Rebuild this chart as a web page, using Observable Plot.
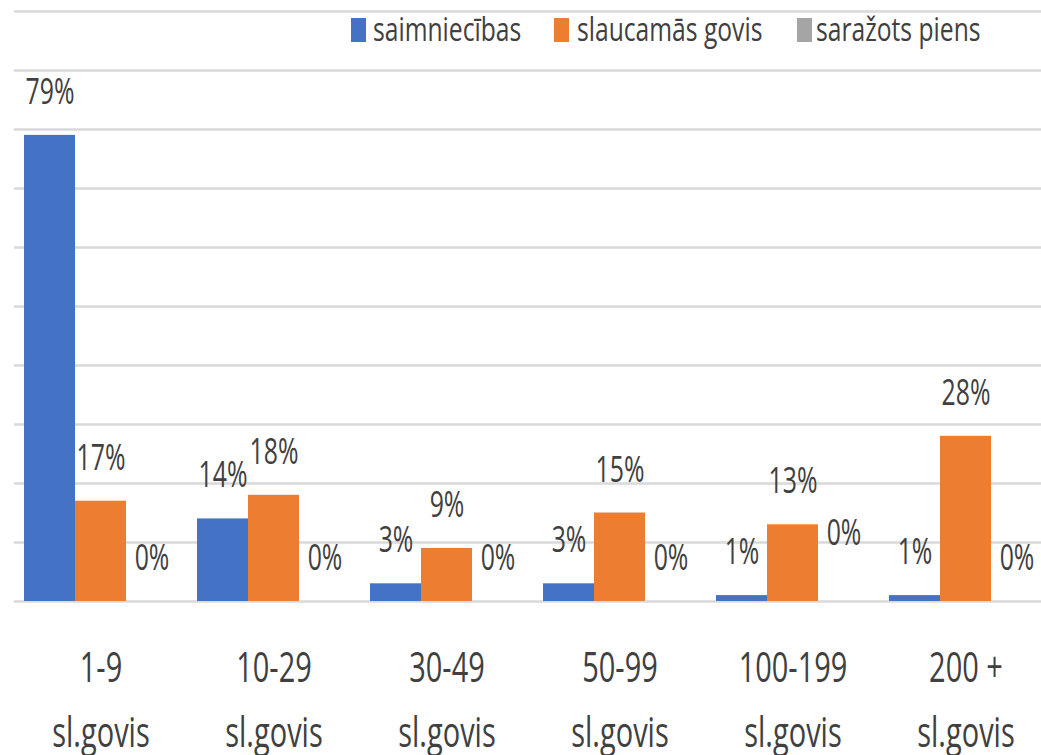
<!DOCTYPE html>
<html>
<head>
<meta charset="utf-8">
<script src="https://cdn.jsdelivr.net/npm/d3@7"></script>
<script src="https://cdn.jsdelivr.net/npm/@observablehq/plot@0.6"></script>
<style>
  html, body { margin: 0; padding: 0; background: #fff; overflow: hidden; }
  #wrap { position: relative; width: 1041px; height: 755px; font-family: "Open Sans", sans-serif; }
  #legend { position: absolute; left: 0; top: 0; width: 1041px; height: 60px; }
  .sw { position: absolute; top: 18px; width: 15px; height: 24px; }
  .lt { position: absolute; top: 13px; font-size: 32px; line-height: 32px; color: #404040;
        white-space: nowrap; transform: scaleX(0.77); transform-origin: 0 0; }
</style>
</head>
<body>
<div id="wrap">
  <div id="chart"></div>
  <div id="legend"></div>
</div>
<script>
const categories = ["1-9", "10-29", "30-49", "50-99", "100-199", "200 +"];
const unitLabel = "sl.govis";
const series = ["saimniecības", "slaucamās govis", "saražots piens"];
const farms = [0.79, 0.14, 0.03, 0.03, 0.01, 0.01];
const cows  = [0.17, 0.18, 0.09, 0.15, 0.13, 0.28];
const milk  = [0, 0, 0, 0, 0, 0];
const colors = ["#4472C4", "#ED7D31", "#A5A5A5"];
const yTicks = [0, 0.1, 0.2, 0.3, 0.4, 0.5, 0.6, 0.7, 0.8, 0.9, 1.0];

const seriesValues = [farms, cows, milk];
const data = [];
categories.forEach((c, i) => {
  series.forEach((s, j) => data.push({category: c, series: s, value: seriesValues[j][i]}));
});
const pct = d => Math.round(d.value * 100) + "%";
const isRaised = d => d.category === "100-199" && d.series === "saražots piens";

const textColor = "#404040";

const chart = Plot.plot({
  width: 1041,
  height: 755,
  marginTop: 11,
  marginBottom: 154,
  marginLeft: 12,
  marginRight: 0,
  style: {fontFamily: "Open Sans, sans-serif", background: "#fff", overflow: "hidden"},
  fx: {domain: categories, range: [12.3, 1052.7], padding: 0, axis: null},
  x: {domain: series, paddingInner: 0, paddingOuter: 0.17, axis: null},
  y: {domain: [0, 1], axis: null},
  color: {domain: series, range: colors},
  marks: [
    Plot.ruleY(yTicks, {stroke: "#d9d9d9", strokeWidth: 2.5}),
    Plot.barY(data, {fx: "category", x: "series", y: "value", fill: "series", inset: 0}),
    Plot.text(data.filter(d => !isRaised(d)), {fx: "category", x: "series", y: "value", text: pct,
      dy: -43, fontSize: 36, fill: textColor}),
    Plot.text(data.filter(isRaised), {fx: "category", x: "series", y: "value", text: pct,
      dy: -68, fontSize: 36, fill: textColor}),
    Plot.text(categories, {fx: d => d, text: d => d + "\n" + unitLabel, frameAnchor: "bottom",
      lineAnchor: "top", dy: 34, lineHeight: 1.55, fontSize: 42, fill: textColor})
  ]
});

// horizontally condense the text, as in the reference
chart.querySelectorAll("text").forEach(t => {
  const holder = t.closest("[font-size]");
  const fs = holder ? parseFloat(holder.getAttribute("font-size")) : 0;
  const sx = fs === 36 ? 0.69 : fs === 42 ? 0.69 : 1;
  let tr = t.getAttribute("transform");
  if (!tr) {
    const x = t.getAttribute("x") || 0, y = t.getAttribute("y") || 0;
    t.removeAttribute("x"); t.removeAttribute("y");
    tr = `translate(${x},${y})`;
  }
  t.setAttribute("transform", tr + ` scale(${sx},1)`);
});

document.getElementById("chart").appendChild(chart);

const legend = document.getElementById("legend");
const swatchLeft = [351, 554, 797];
const textLeft = [373, 577, 816];
series.forEach((s, i) => {
  const sw = document.createElement("div");
  sw.className = "sw";
  sw.style.left = swatchLeft[i] + "px";
  sw.style.background = colors[i];
  legend.appendChild(sw);
  const lt = document.createElement("div");
  lt.className = "lt";
  lt.style.left = textLeft[i] + "px";
  lt.textContent = s;
  legend.appendChild(lt);
});
</script>
</body>
</html>
